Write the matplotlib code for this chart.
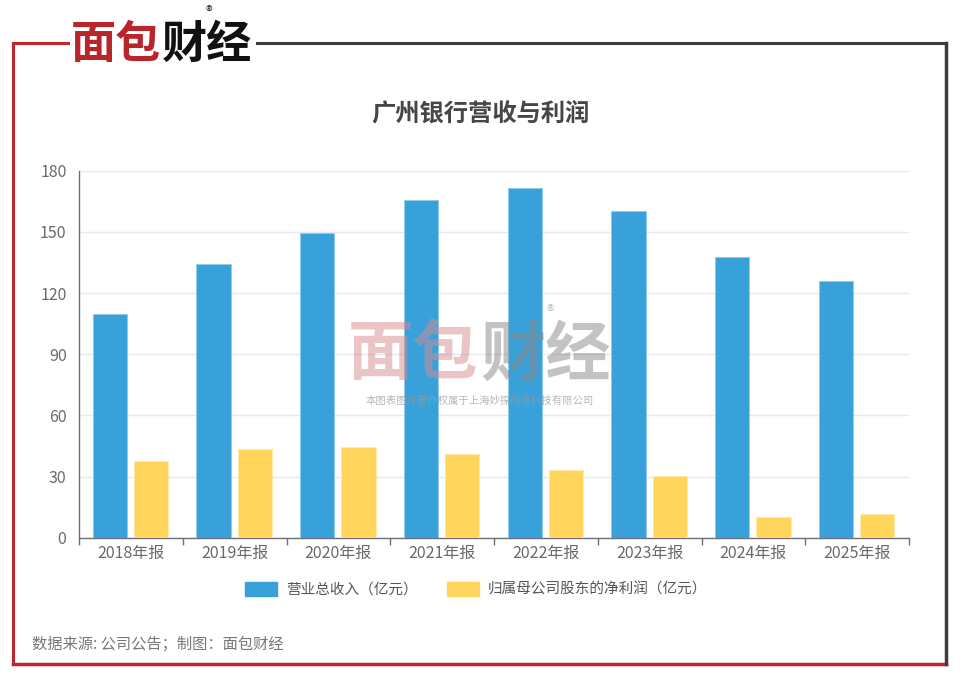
import matplotlib
matplotlib.use("Agg")
import matplotlib.pyplot as plt
import numpy as np
from matplotlib.lines import Line2D
from matplotlib.patches import Patch

plt.rcParams['font.family'] = ['Noto Sans CJK SC', 'DejaVu Sans']

categories = ["2018年报", "2019年报", "2020年报", "2021年报", "2022年报", "2023年报", "2024年报", "2025年报"]
revenue = [109.6, 134.1, 149.3, 165.6, 171.5, 160.1, 137.8, 125.7]
net_profit = [37.8, 43.4, 44.6, 41.0, 33.4, 30.1, 10.2, 11.8]
series_names = ["营业总收入（亿元）", "归属母公司股东的净利润（亿元）"]
yticks = [0, 30, 60, 90, 120, 150, 180]

blue = "#39a1da"
yellow = "#ffd65b"

fig = plt.figure(figsize=(9.6, 6.79), dpi=100)
W, H = 960, 679

def fx(px):
    return px / W

def fy(py):
    return 1 - py / H

ax = fig.add_axes([fx(79), fy(537.7), fx(909) - fx(79), fy(170.7) - fy(537.7)])
x = np.arange(len(categories))
bw = 0.33
ax.bar(x - 0.204, revenue, width=bw, color=blue, edgecolor="#8fcbee", linewidth=0.6, zorder=3)
ax.bar(x + 0.194, net_profit, width=bw, color=yellow, edgecolor="#ffe9a6", linewidth=0.6, zorder=3)

ax.set_xlim(-0.5, len(categories) - 0.5)
ax.set_ylim(0, 180)
ax.set_yticks(yticks)
ax.set_yticklabels([str(v) for v in yticks], fontsize=11.5, color="#6a6a6a")
ax.set_xticks(x)
ax.set_xticklabels(categories, fontsize=11.5, color="#6a6a6a")
ax.tick_params(axis='x', length=0, pad=5)
ax.tick_params(axis='y', length=0, pad=9)
ax.set_xticks(np.arange(-0.5, len(categories)), minor=True)
ax.tick_params(axis='x', which='minor', length=5, color="#6e7079", width=1)
ax.yaxis.grid(True, color="#e3e8f3", linewidth=1, zorder=0)
ax.set_axisbelow(True)
for s in ["top", "right"]:
    ax.spines[s].set_visible(False)
ax.spines["left"].set_color("#6e7079")
ax.spines["bottom"].set_color("#6e7079")
ax.spines["left"].set_linewidth(1)
ax.spines["bottom"].set_linewidth(1)

# title
fig.text(0.5, fy(113), "广州银行营收与利润", ha="center", va="center", fontsize=17.5,
         fontweight="bold", color="#464646")

# legend
handles = [Patch(facecolor=blue, edgecolor=blue), Patch(facecolor=yellow, edgecolor=yellow)]
leg = fig.legend(handles, series_names, loc="center", bbox_to_anchor=(fx(476), fy(589)), ncol=2,
                 frameon=False, fontsize=10.5, handlelength=2.2, handleheight=1.1,
                 columnspacing=2.0, handletextpad=0.6)
for t in leg.get_texts():
    t.set_color("#555555")

# source
fig.text(fx(32), fy(644), "数据来源: 公司公告；制图：面包财经", ha="left", va="center",
         fontsize=11, color="#777777")

# frame
red = "#c0262d"
gray = "#3c3c3c"
fig.add_artist(Line2D([fx(13), fx(13)], [fy(43), fy(664)], color=red, lw=2.2))
fig.add_artist(Line2D([fx(13), fx(946)], [fy(664), fy(664)], color=red, lw=2.5))
fig.add_artist(Line2D([fx(13), fx(68)], [fy(43), fy(43)], color=red, lw=2.2))
fig.add_artist(Line2D([fx(257), fx(946)], [fy(43), fy(43)], color=gray, lw=2.2))
fig.add_artist(Line2D([fx(946), fx(946)], [fy(43), fy(664)], color=gray, lw=2.5))

# logo
fig.text(fx(71), fy(45), "面包", ha="left", va="center", fontsize=32.5, fontweight="heavy",
         color="#b8252b")
fig.text(fx(162), fy(45), "财经", ha="left", va="center", fontsize=32.5, fontweight="heavy",
         color="#111111")
fig.text(fx(209), fy(13), "®", ha="center", va="center", fontsize=10, color="#333333")

# watermark
fig.text(fx(348), fy(355), "面包", ha="left", va="center", fontsize=47, fontweight="heavy",
         color="#d88a8e", alpha=0.5)
fig.text(fx(480), fy(355), "财经", ha="left", va="center", fontsize=47, fontweight="heavy",
         color="#888888", alpha=0.5)
fig.text(fx(550), fy(312), "®", ha="center", va="center", fontsize=11, color="#aaaaaa", alpha=0.7)
fig.text(fx(480), fy(401), "本图表图片著作权属于上海妙探网络科技有限公司", ha="center", va="center",
         fontsize=7.5, color="#999999", alpha=0.7)

fig.savefig("out.png", dpi=100)
